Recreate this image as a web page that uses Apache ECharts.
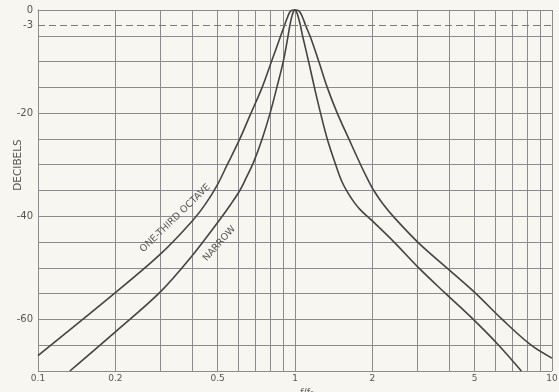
<!DOCTYPE html>
<html><head><meta charset="utf-8">
<script src="https://cdn.jsdelivr.net/npm/echarts@6/dist/echarts.min.js"></script>
<style>html,body{margin:0;padding:0;background:#f8f6f0}#c{width:559px;height:392px}</style>
</head><body><div id="c"></div>
<script>
// One-third octave filter response (f/f0, dB)
const thirdOctaveF  = [0.1, 0.2, 0.3, 0.4, 0.45, 0.5, 0.545, 0.61, 0.67, 0.745, 0.81, 0.88, 0.91, 0.935, 0.955, 0.975, 1.0, 1.025, 1.045, 1.07, 1.1, 1.149, 1.238, 1.335, 1.46, 1.62, 1.80, 1.9, 2.02, 2.2, 2.46, 3.06, 3.98, 5.06, 6.4, 8.3, 10];
const thirdOctaveDb = [-67, -54.8, -47.3, -40.8, -37.5, -33.8, -30, -25, -20.3, -15, -10, -5, -3, -1.4, -0.4, -0.05, 0, -0.05, -0.4, -1.4, -3, -5.3, -10, -15, -20, -25, -30, -32.4, -34.9, -37.6, -40.5, -45.4, -50.4, -55, -60, -65, -67.5];
// Narrow filter response
const narrowF  = [0.133, 0.2, 0.3, 0.4, 0.5, 0.56, 0.61, 0.645, 0.69, 0.745, 0.80, 0.85, 0.90, 0.94, 0.955, 0.975, 0.99, 1.0, 1.01, 1.025, 1.05, 1.07, 1.13, 1.19, 1.257, 1.335, 1.44, 1.52, 1.6, 1.7, 1.8, 1.97, 2.43, 3.03, 3.86, 4.94, 6.2, 7.6];
const narrowDb = [-70, -62.4, -54.6, -47.5, -41.2, -37.8, -35, -32.6, -29.5, -25, -20, -15, -10, -5, -3, -1, -0.15, 0, -0.15, -1, -3, -5, -10, -15, -20, -25, -30, -33.2, -35.3, -37.3, -38.8, -40.6, -45, -50, -55, -60, -65, -70];

const xGridValues  = [0.1,0.2,0.3,0.4,0.5,0.6,0.7,0.8,0.9,1,2,3,4,5,6,7,8,9,10];
const xLabelValues = [0.1,0.2,0.5,1,2,5,10];
const yLabelValues = [0,-3,-20,-40,-60];
const refLevel = -3;
const curveLabels = [
  {text:'ONE-THIRD OCTAVE', f:0.342, db:-40.4, angle:44},
  {text:'NARROW', f:0.508, db:-45.3, angle:48}
];

const pair = (xs, ys) => xs.map((x, i) => [x, ys[i]]);
const gridColor = '#8c8c8c';
const inkColor = '#555';
const curveColor = '#444';

const chart = echarts.init(document.getElementById('c'));
chart.setOption({
  backgroundColor: '#f8f6f0',
  animation: false,
  grid: {left: 38, right: 7, top: 10, bottom: 21, containLabel: false, outerBoundsMode: 'none'},
  xAxis: {
    type: 'log', logBase: 10, min: 0.1, max: 10,
    name: 'f/f\u2080', nameLocation: 'middle', nameGap: 15,
    nameTextStyle: {color: inkColor, fontSize: 9.5, fontFamily: 'DejaVu Sans', padding: [0,0,0,24]},
    axisLine: {show: true, lineStyle: {color: gridColor, width: 1}},
    axisTick: {show: false, customValues: xGridValues},
    axisLabel: {customValues: xLabelValues, color: inkColor, fontSize: 9, fontFamily: 'DejaVu Sans', margin: 3,
      formatter: v => String(+(+v).toPrecision(3))},
    splitLine: {show: true, lineStyle: {color: gridColor, width: 1}},
    minorSplitLine: {show: false}
  },
  yAxis: {
    type: 'value', min: -70, max: 0, interval: 5,
    axisLine: {show: true, lineStyle: {color: gridColor, width: 1}},
    axisTick: {show: false},
    axisLabel: {customValues: yLabelValues, color: inkColor, fontSize: 10, fontFamily: 'DejaVu Sans', margin: 5,
      formatter: v => String(v)},
    splitLine: {show: true, lineStyle: {color: gridColor, width: 1}}
  },
  series: [
    {
      name: 'One-third octave', type: 'line', data: pair(thirdOctaveF, thirdOctaveDb),
      showSymbol: false, smooth: 0.35, clip: false,
      lineStyle: {color: curveColor, width: 1.6},
      markLine: {
        silent: true, symbol: 'none', label: {show: false},
        lineStyle: {color: '#7a7a7a', width: 1, type: [7, 4]},
        data: [{yAxis: refLevel}]
      }
    },
    {
      name: 'Narrow', type: 'line', data: pair(narrowF, narrowDb),
      showSymbol: false, smooth: 0.35, clip: false,
      lineStyle: {color: curveColor, width: 1.6}
    }
  ]
});

const graphics = curveLabels.map(l => {
  const p = chart.convertToPixel({gridIndex: 0}, [l.f, l.db]);
  return {
    type: 'text', x: p[0], y: p[1], rotation: l.angle * Math.PI / 180,
    style: {text: l.text, fill: inkColor, font: '9.5px "DejaVu Sans"', align: 'center', verticalAlign: 'middle'}
  };
});
graphics.push({
  type: 'text', x: 18, y: 165, rotation: Math.PI / 2,
  style: {text: 'DECIBELS', fill: inkColor, font: '10.5px "DejaVu Sans"', align: 'center', verticalAlign: 'middle'}
});
chart.setOption({graphic: graphics});
</script></body></html>
